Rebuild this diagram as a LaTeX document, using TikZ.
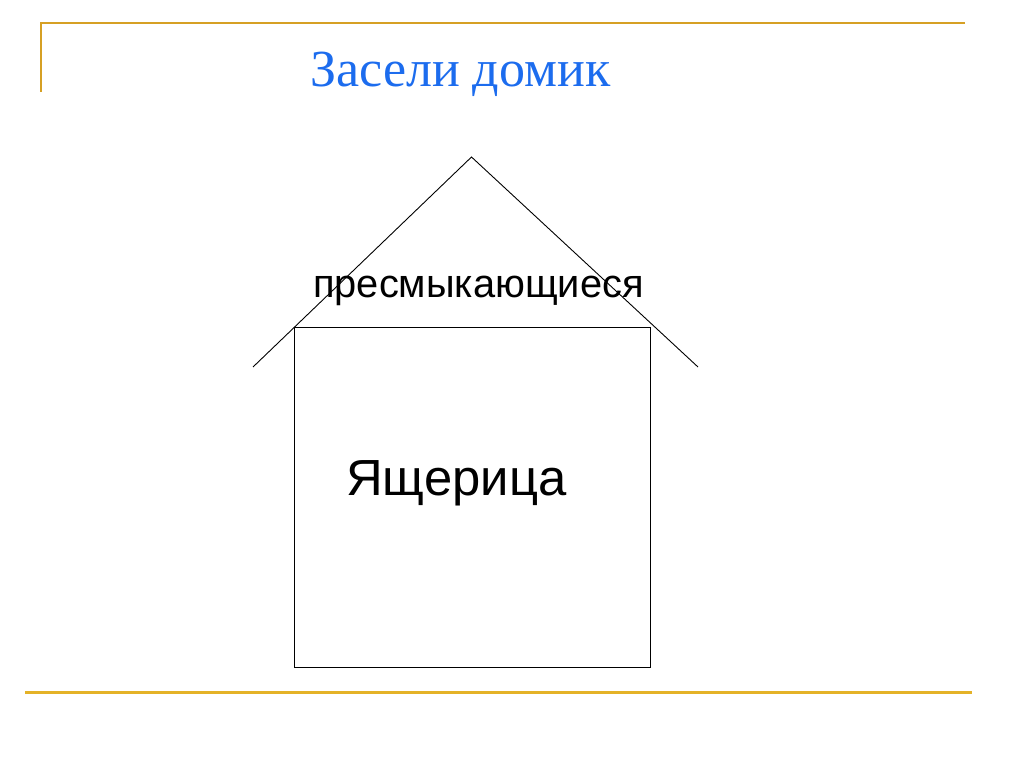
\documentclass[tikz,border=0pt]{standalone}
\usepackage{fontspec}
\setmainfont{Liberation Serif}
\newfontfamily\sansfnt{Liberation Sans}
\definecolor{goldline}{RGB}{214,160,36}
\definecolor{goldline2}{RGB}{228,178,40}
\definecolor{titleblue}{RGB}{28,108,238}
\begin{document}
\begin{tikzpicture}[x=1pt,y=-1pt,
  houseline/.style={draw=black,line width=0.9pt},
  lbl/.style={inner sep=0pt,anchor=base west}]
\useasboundingbox[fill=white] (0,0) rectangle (1024,767);
% frame lines
\coordinate (tl) at (41,23);
\coordinate (tr) at (965,23);
\coordinate (vl) at (41,92);
\coordinate (bl) at (25,692);
\coordinate (br) at (972,692);
\draw[goldline,line width=2pt] (vl) -- (tl) -- (tr);
\draw[goldline2,line width=3pt] (bl) -- (br);
% title
\node[lbl,text=titleblue,font=\fontsize{52}{58}\selectfont] (title) at (310,86.5) {Засели домик};
% house
\coordinate (apex) at (471.5,157);
\coordinate (roofL) at (253,367);
\coordinate (roofR) at (698,367);
\draw[houseline] (roofL) -- (apex) -- (roofR);
\node[houseline,fill=none,minimum width=356pt,minimum height=339.5pt,inner sep=0pt,anchor=north west] (walls) at (293.5,327) {};
\node[lbl,font=\sansfnt\fontsize{39.8}{46}\selectfont] (group) at (313,297) {пресмыкающиеся};
\node[lbl,font=\sansfnt\fontsize{50.8}{56}\selectfont] (animal) at (346,495) {Ящерица};
\end{tikzpicture}
\end{document}
